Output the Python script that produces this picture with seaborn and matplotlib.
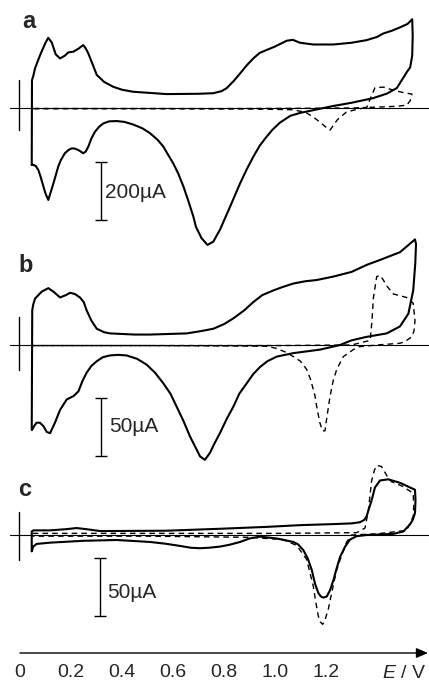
import numpy as np
import pandas as pd
import matplotlib
matplotlib.use('Agg')
import matplotlib.pyplot as plt
import seaborn as sns

sns.set_style('white')
plt.rcParams['font.family'] = ['Liberation Sans', 'DejaVu Sans']
plt.rcParams['mathtext.fontset'] = 'custom'
plt.rcParams['mathtext.it'] = 'Liberation Sans:italic'
plt.rcParams['mathtext.rm'] = 'Liberation Sans'

# ---------------- data (E in V, current in uA) ----------------
# panel a, solid CV (closed loop: anodic then cathodic)
a_solid_E = [0.046, 0.047, 0.052, 0.059, 0.080, 0.100, 0.111, 0.125, 0.140, 0.157, 0.175, 0.190, 0.209, 0.230,
             0.248, 0.258, 0.268, 0.285, 0.301, 0.330, 0.366, 0.400, 0.444, 0.575, 0.700, 0.758, 0.790, 0.810,
             0.840, 0.863, 0.890, 0.915, 0.940, 0.967, 1.000, 1.046, 1.070, 1.098, 1.150, 1.229, 1.300, 1.359,
             1.400, 1.425, 1.460, 1.490, 1.520, 1.538,
             1.540, 1.538, 1.530, 1.517, 1.500, 1.478, 1.440, 1.385, 1.300, 1.229, 1.190, 1.137, 1.098, 1.060,
             1.020, 0.990, 0.967, 0.940, 0.915, 0.890, 0.863, 0.824, 0.784, 0.758, 0.735, 0.712, 0.690, 0.680,
             0.660, 0.641, 0.620, 0.601, 0.580, 0.562, 0.540, 0.510, 0.480, 0.444, 0.410, 0.379, 0.350, 0.327,
             0.310, 0.294, 0.280, 0.268, 0.258, 0.248, 0.238, 0.229, 0.215, 0.203, 0.190, 0.176, 0.160, 0.150,
             0.131, 0.111, 0.100, 0.092, 0.080, 0.072, 0.062, 0.052, 0.046]
a_solid_I = [-196, 96, 110, 137, 185, 225, 242, 225, 185, 171, 180, 192, 194, 205,
             217, 205, 188, 150, 114, 90, 73, 63, 56, 48, 49, 51, 58, 68,
             95, 119, 148, 171, 190, 200, 212, 232, 235, 225, 219, 219, 225, 234,
             245, 257, 267, 278, 290, 306,
             250, 180, 140, 124, 100, 69, 50, 34, 18, 7, 0, -10, -17, -27,
             -50, -75, -99, -130, -168, -210, -260, -340, -420, -461, -472, -449, -410, -375,
             -320, -271, -225, -191, -160, -133, -110, -87, -70, -57, -48, -45, -46, -53,
             -65, -82, -105, -133, -150, -156, -150, -145, -140, -139, -145, -156, -180, -202,
             -260, -317, -295, -271, -235, -214, -200, -196, -196]

# panel a, dashed CV
a_dash_E = [0.050, 0.400, 0.800, 1.100, 1.300, 1.360, 1.375, 1.392, 1.425, 1.470, 1.510, 1.537,
            1.530, 1.517, 1.480, 1.400, 1.359, 1.320, 1.280, 1.245, 1.216, 1.200, 1.175, 1.150,
            1.120, 1.070, 0.900, 0.500, 0.050]
a_dash_I = [-2, -2, -2, -1, 0, 2, 35, 70, 72, 60, 52, 48,
            25, 10, 6, 3, 2, -5, -14, -40, -76, -66, -48, -31,
            -15, -6, -3, -2, -2]

# panel b, solid CV
b_solid_E = [0.046, 0.048, 0.052, 0.059, 0.085, 0.111, 0.131, 0.157, 0.180, 0.196, 0.215, 0.235, 0.250,
             0.261, 0.280, 0.301, 0.330, 0.353, 0.450, 0.510, 0.654, 0.710, 0.758, 0.800, 0.837, 0.880,
             0.915, 0.950, 0.993, 1.030, 1.072, 1.120, 1.163, 1.229, 1.300, 1.359, 1.420, 1.490, 1.549,
             1.553, 1.550, 1.542, 1.523, 1.490, 1.438, 1.359, 1.300, 1.255, 1.176, 1.072, 1.007, 0.970,
             0.941, 0.915, 0.889, 0.860, 0.837, 0.810, 0.784, 0.760, 0.745, 0.725, 0.706, 0.690, 0.667,
             0.640, 0.614, 0.590, 0.562, 0.530, 0.497, 0.460, 0.418, 0.385, 0.353, 0.325, 0.301, 0.280,
             0.261, 0.245, 0.229, 0.210, 0.183, 0.157, 0.137, 0.118, 0.105, 0.092, 0.078, 0.065, 0.055,
             0.048]
b_solid_I = [-73, 30, 35, 40, 46, 49, 46, 41, 43, 45, 44, 41, 37,
             30, 21, 14, 11, 10, 9, 9, 10, 12, 14, 18, 23, 30,
             37, 43, 47, 50, 53, 55, 56, 59, 63, 69, 74, 80, 91,
             87, 70, 47, 27, 16, 10, 7, 4, 0, -4, -7, -10, -14,
             -19, -25, -33, -42, -53, -64, -76, -86, -93, -99, -96, -89, -79,
             -65, -53, -42, -33, -24, -17, -12, -9, -8.5, -9, -10.5, -14, -18,
             -24, -31, -40, -44, -47, -56, -67, -76, -75, -70, -67, -67, -70,
             -73]

# panel b, dashed CV
b_dash_E = [0.050, 0.500, 1.000, 1.300, 1.373, 1.380, 1.386, 1.399, 1.412, 1.425, 1.438, 1.464,
            1.516, 1.542, 1.549, 1.545, 1.536, 1.510, 1.490, 1.400, 1.330, 1.307, 1.268, 1.242,
            1.228, 1.216, 1.205, 1.196, 1.186, 1.176, 1.165, 1.157, 1.140, 1.124, 1.100, 1.072,
            1.040, 1.007, 0.967, 0.500, 0.050]
b_dash_I = [-0.5, -0.5, -0.5, 0, 4, 20, 41, 59, 60, 56, 51, 44,
            41, 36, 21, 12, 7, 3, 1.5, 0, -1.5, -4, -10, -21,
            -31, -44, -60, -74, -74, -67, -55, -44, -30, -21, -14, -10,
            -6, -3, -1, -0.5, -0.5]

# panel c, solid CV
c_solid_E = [0.046, 0.046, 0.052, 0.118, 0.180, 0.222, 0.261, 0.314, 0.400, 0.575, 0.800, 0.967, 1.100,
             1.229, 1.300, 1.333, 1.350, 1.359, 1.369, 1.379, 1.392, 1.412, 1.444, 1.490, 1.549,
             1.551, 1.549, 1.540, 1.529, 1.503, 1.464, 1.359, 1.320, 1.294, 1.275, 1.255, 1.240, 1.229,
             1.215, 1.203, 1.190, 1.180, 1.170, 1.157, 1.144, 1.128, 1.111, 1.090, 1.072, 1.007,
             0.941, 0.900, 0.863, 0.820, 0.784, 0.740, 0.706, 0.670, 0.627, 0.570, 0.510, 0.379, 0.248,
             0.118, 0.065, 0.052, 0.046]
c_solid_I = [-14, 3, 4, 4, 5, 6, 5, 3.4, 3.5, 3.7, 5.5, 7, 8.5,
             9.4, 10, 11, 13, 16, 23, 30, 41, 47, 48, 45, 39,
             30, 19, 13, 9, 3, 1, 0, -1, -4, -10, -19, -30, -39,
             -48, -53, -54, -53, -50, -42, -30, -20, -13, -8, -6, -3,
             -1.4, -3, -6, -8.5, -10, -11, -11.4, -11, -9.4, -7.5, -6, -4.3, -5,
             -6.6, -7.7, -10, -14]

# panel c, dashed CV
c_dash_E = [0.050, 0.500, 1.000, 1.320, 1.353, 1.366, 1.379, 1.390, 1.399, 1.418, 1.444, 1.457,
            1.500, 1.542, 1.544, 1.542, 1.516, 1.400, 1.300, 1.281, 1.262, 1.242, 1.225, 1.209,
            1.195, 1.187, 1.178, 1.170, 1.160, 1.150, 1.124, 1.085, 1.033, 0.902, 0.500, 0.050]
c_dash_I = [1.4, 1.4, 1.4, 2, 6, 21, 47, 56, 60, 59, 49, 46,
            42, 36, 25, 16, 4, 1, 0, -6, -17, -30, -47, -64,
            -74, -77, -75, -70, -58, -44, -21, -9, -4, -2, -1, -1]

# scale bars (uA) and labels
scale_vals = [200, 50, 50]
scale_labels = ['200\u00b5A', '50\u00b5A', '50\u00b5A']
panel_letters = ['a', 'b', 'c']

# bottom axis
x_ticks = [0, 0.2, 0.4, 0.6, 0.8, 1.0, 1.2, 1.4]
x_ticklabels = ['0', '0.2', '0.4', '0.6', '0.8', '1.0', '1.2', '']

# ---------------- layout ----------------
W, H = 429, 682
fig = plt.figure(figsize=(W / 100, H / 100), dpi=100)
fig.patch.set_facecolor('white')

X0_PX, PX_PER_V = 20, 255
xlim = (-X0_PX / PX_PER_V, (W - X0_PX) / PX_PER_V)


def px2E(px):
    return (px - X0_PX) / PX_PER_V


def make_axes(top_px, bottom_px, base_px, px_per_uA):
    ax = fig.add_axes([0, 1 - bottom_px / H, 1, (bottom_px - top_px) / H])
    ax.set_xlim(*xlim)
    ax.set_ylim(-(bottom_px - base_px) / px_per_uA, (base_px - top_px) / px_per_uA)
    ax.axis('off')
    ax.patch.set_alpha(0)
    return ax


panels = [
    dict(geom=(0, 250, 108, 58 / 200), solid=(a_solid_E, a_solid_I), dash=(a_dash_E, a_dash_I),
         vbar_px=(80, 130), sbar_px=(101, 162, 220), stext_px=(105, 192), letter_px=(29, 21)),
    dict(geom=(230, 470, 345, 58 / 50), solid=(b_solid_E, b_solid_I), dash=(b_dash_E, b_dash_I),
         vbar_px=(317, 370), sbar_px=(101, 398, 456), stext_px=(109, 427), letter_px=(26, 265)),
    dict(geom=(470, 640, 535, 58 / 50), solid=(c_solid_E, c_solid_I), dash=(c_dash_E, c_dash_I),
         vbar_px=(512, 560), sbar_px=(100, 558, 617), stext_px=(107, 592), letter_px=(25, 490)),
]

for i, p in enumerate(panels):
    top, bot, base, k = p['geom']
    ax = make_axes(top, bot, base, k)
    pxy = lambda y: (base - y) / k

    # zero line
    ax.plot([px2E(10), xlim[1]], [0, 0], color='black', lw=0.8, clip_on=False)
    # left marker bar
    ax.plot([px2E(19), px2E(19)], [pxy(p['vbar_px'][0]), pxy(p['vbar_px'][1])],
            color='black', lw=1.0, clip_on=False)

    dfd = pd.DataFrame({'E': p['dash'][0], 'I': p['dash'][1]})
    sns.lineplot(data=dfd, x='E', y='I', sort=False, estimator=None, ax=ax,
                 color='black', lw=1.0, clip_on=False)
    ax.lines[-1].set_dashes([4, 3])

    dfs = pd.DataFrame({'E': p['solid'][0], 'I': p['solid'][1]})
    sns.lineplot(data=dfs, x='E', y='I', sort=False, estimator=None, ax=ax,
                 color='black', lw=1.5, clip_on=False)

    # scale bar
    sx, sy0, sy1 = p['sbar_px']
    ytop = pxy(sy0)
    ax.errorbar([px2E(sx)], [ytop - scale_vals[i] / 2], yerr=[scale_vals[i] / 2],
                color='black', lw=1.0, capsize=4, capthick=1.0, clip_on=False)
    tx, ty = p['stext_px']
    ax.text(px2E(tx), pxy(ty), scale_labels[i], fontsize=15, ha='left', va='center')

    lx, ly = p['letter_px']
    fig.text(lx / W, 1 - ly / H, panel_letters[i], fontsize=17, fontweight='bold',
             ha='center', va='center')

# bottom E axis
axx = fig.add_axes([0, 1 - 653 / H, 1, 10 / H])
axx.set_xlim(*xlim)
axx.set_ylim(0, 1)
for s in axx.spines.values():
    s.set_visible(False)
axx.patch.set_alpha(0)
axx.set_yticks([])
axx.set_xticks(x_ticks)
axx.set_xticklabels(x_ticklabels)
axx.tick_params(axis='x', direction='in', length=4.3, width=1.0, pad=8, labelsize=14, color='black')
axx.annotate('', xy=(px2E(428), 0), xytext=(0, 0), xycoords='data', textcoords='data',
             arrowprops=dict(arrowstyle='-|>,head_length=0.7,head_width=0.3', color='black', lw=1.0,
                             shrinkA=0, shrinkB=0), annotation_clip=False)
fig.text(426 / W, 1 - 674 / H, r'$\mathit{E}$ / V', fontsize=14, ha='right', va='center')

fig.savefig('out.png', dpi=100, facecolor='white')
